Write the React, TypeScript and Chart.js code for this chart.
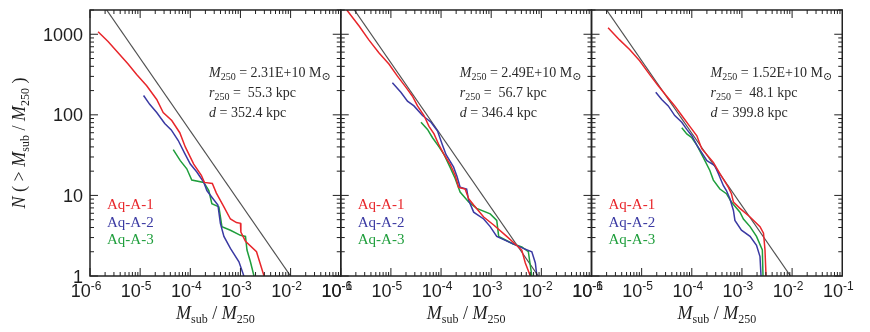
import React, { useEffect, useRef } from 'react';
import { Chart, registerables } from 'chart.js';

Chart.register(...registerables);

// ---------- axis settings ----------
const X_MIN = 1e-6;
const X_MAX = 1e-1;
const Y_MIN = 1;
const Y_MAX = 2000;
const X_TICK_EXPONENTS = [-6, -5, -4, -3, -2, -1];
const Y_TICK_LABELS = [1, 10, 100, 1000];

// ---------- series ----------
const SERIES_NAMES = ['Aq-A-1', 'Aq-A-2', 'Aq-A-3'];
const SERIES_COLORS = ['#e8262b', '#3b3aa3', '#1f9e3c'];

// ---------- halo annotations ----------
const HALO_M250 = ['2.31E+10', '2.49E+10', '1.52E+10'];
const HALO_R250 = ['55.3', '56.7', '48.1'];
const HALO_D = ['352.4', '346.4', '399.8'];

type Pt = [number, number];

// Panel 1  [M_sub/M_250, N(>M)]
const p1Red: Pt[] = [
  [1.45e-6, 1072], [2.29e-6, 813], [3.63e-6, 589], [5.75e-6, 427], [8.51e-6, 316],
  [1.35e-5, 229], [2.14e-5, 155], [2.88e-5, 107], [4.27e-5, 85], [6.17e-5, 60],
  [7.94e-5, 40], [1.17e-4, 24.5], [1.66e-4, 17.8], [1.91e-4, 14.5], [2.75e-4, 14.1],
  [3.31e-4, 10.7], [4.68e-4, 7.2], [6.31e-4, 5.1], [8.32e-4, 4.6], [1.0e-3, 4.5],
  [1.02e-3, 3.5], [1.26e-3, 2.7], [2.09e-3, 2.0], [2.95e-3, 1],
];
const p1Blue: Pt[] = [
  [1.17e-5, 174], [1.55e-5, 135], [2.14e-5, 107], [3.09e-5, 78], [4.17e-5, 65],
  [5.75e-5, 48], [7.59e-5, 34], [1.0e-4, 24.5], [1.35e-4, 19.5], [1.86e-4, 14.5],
  [2.14e-4, 11.5], [2.69e-4, 9.5], [3.55e-4, 7.6], [3.98e-4, 4.5], [4.68e-4, 3.1],
  [6.31e-4, 2.2], [9.33e-4, 1.5], [1.17e-3, 1],
];
const p1Green: Pt[] = [
  [4.57e-5, 37], [6.31e-5, 27], [8.51e-5, 21.4], [1.07e-4, 15.5], [1.86e-4, 14.5],
  [2.34e-4, 11.5], [2.69e-4, 7.9], [3.72e-4, 7.2], [4.27e-4, 4.1], [6.31e-4, 3.7],
  [1.0e-3, 3.2], [1.26e-3, 3.1], [1.35e-3, 2.1], [1.58e-3, 1.5], [1.86e-3, 1],
];
const p1Ref: Pt[] = [[2.15e-6, 2000], [1.0e-2, 1]];

// Panel 2
const p2Red: Pt[] = [
  [1.32e-6, 2000], [2.34e-6, 1259], [3.63e-6, 851], [5.75e-6, 589], [9.12e-6, 427],
  [1.35e-5, 302], [2.0e-5, 219], [2.69e-5, 170], [3.39e-5, 129], [4.57e-5, 98],
  [5.75e-5, 72], [7.24e-5, 58], [9.12e-5, 42], [1.15e-4, 32], [1.51e-4, 24.5],
  [1.91e-4, 17.8], [2.24e-4, 12.6], [3.02e-4, 12], [3.55e-4, 9.1], [4.47e-4, 7.6],
  [7.08e-4, 5.4], [1.12e-3, 4.3], [2.04e-3, 3.1], [4.07e-3, 2.1], [4.79e-3, 1.45],
  [6.03e-3, 1],
];
const p2Blue: Pt[] = [
  [1.07e-5, 251], [1.58e-5, 191], [2.14e-5, 148], [2.88e-5, 129], [4.27e-5, 98],
  [6.31e-5, 81], [8.51e-5, 63], [1.07e-4, 42], [1.26e-4, 32], [1.78e-4, 22.4],
  [2.09e-4, 17], [2.40e-4, 12.6], [3.24e-4, 12], [3.55e-4, 8.7], [4.47e-4, 6.2],
  [7.08e-4, 5.1], [9.55e-4, 4.1], [1.29e-3, 3.1], [2.40e-3, 2.6], [4.37e-3, 2.2],
  [6.46e-3, 2.0], [7.59e-3, 1.45], [8.13e-3, 1],
];
const p2Green: Pt[] = [
  [3.98e-5, 81], [5.37e-5, 66], [6.76e-5, 52], [9.12e-5, 40], [1.15e-4, 32],
  [1.51e-4, 22.4], [1.91e-4, 16.2], [2.40e-4, 11], [3.55e-4, 8.3], [5.13e-4, 6.9],
  [9.55e-4, 5.9], [1.29e-3, 4.9], [1.41e-3, 3.1], [2.75e-3, 2.5], [4.07e-3, 2.3],
  [5.50e-3, 2.0], [6.46e-3, 1],
];
const p2Ref: Pt[] = [[1.87e-6, 2000], [8.7e-3, 1]];

// Panel 3
const p3Red: Pt[] = [
  [2.14e-6, 1202], [3.63e-6, 851], [5.75e-6, 646], [9.12e-6, 468], [1.45e-5, 316],
  [2.14e-5, 229], [3.16e-5, 170], [4.57e-5, 129], [6.31e-5, 98], [9.12e-5, 72],
  [1.26e-4, 55], [1.58e-4, 38], [2.69e-4, 25.7], [3.63e-4, 18.6], [5.37e-4, 12.6],
  [6.17e-4, 10.5], [6.76e-4, 8.3], [9.12e-4, 6.9], [1.45e-3, 5.4], [2.29e-3, 4.1],
  [2.69e-3, 3.4], [2.88e-3, 2.1], [3.02e-3, 1],
];
const p3Blue: Pt[] = [
  [1.91e-5, 191], [2.51e-5, 155], [3.39e-5, 129], [4.57e-5, 98], [6.31e-5, 81],
  [7.94e-5, 66], [1.0e-4, 55], [1.26e-4, 42], [2.0e-4, 27], [2.88e-4, 23.4],
  [3.39e-4, 18.6], [4.27e-4, 13.2], [4.90e-4, 11.5], [5.75e-4, 9.1], [6.76e-4, 6.5],
  [7.24e-4, 4.9], [9.77e-4, 3.7], [1.45e-3, 3.1], [1.95e-3, 2.4], [2.29e-3, 1.74],
  [2.40e-3, 1],
];
const p3Green: Pt[] = [
  [6.31e-5, 69], [7.94e-5, 58], [1.0e-4, 52], [1.26e-4, 42], [1.70e-4, 29.5],
  [2.29e-4, 20.4], [2.69e-4, 15.5], [3.63e-4, 12], [4.90e-4, 10.5], [6.17e-4, 8.3],
  [9.12e-4, 6.2], [1.07e-3, 5.1], [1.45e-3, 4.1], [1.95e-3, 3.1], [2.55e-3, 2.1],
  [2.63e-3, 1],
];
const p3Ref: Pt[] = [[2.0e-6, 2000], [9.3e-3, 1]];

const PANELS: { series: Pt[][]; ref: Pt[] }[] = [
  { series: [p1Red, p1Blue, p1Green], ref: p1Ref },
  { series: [p2Red, p2Blue, p2Green], ref: p2Ref },
  { series: [p3Red, p3Blue, p3Green], ref: p3Ref },
];

// ---------- layout (px) ----------
const W = 870;
const H = 332;
const PANEL_LEFT = [90, 340.75, 591.5];
const PANEL_W = 250.75;
const PLOT_TOP = 10;
const PLOT_BOTTOM = 276;

const SERIF = "'Liberation Serif', 'Times New Roman', 'DejaVu Serif', serif";
const SANS = "'Liberation Sans', Arial, Helvetica, sans-serif";
const AXIS_COLOR = '#222';
const TEXT_COLOR = '#1e1e1e';

type Seg = { t: string; f: string; dy?: number };

function segWidth(ctx: CanvasRenderingContext2D, segs: Seg[]) {
  let w = 0;
  for (const s of segs) {
    ctx.font = s.f;
    w += ctx.measureText(s.t).width;
  }
  return w;
}

function drawSegs(ctx: CanvasRenderingContext2D, segs: Seg[], x: number, y: number) {
  let cx = x;
  for (const s of segs) {
    ctx.font = s.f;
    ctx.fillText(s.t, cx, y + (s.dy || 0));
    cx += ctx.measureText(s.t).width;
  }
}

function makeDecor(idx: number) {
  return {
    id: 'decor' + idx,
    afterDraw(chart: any) {
      const ctx: CanvasRenderingContext2D = chart.ctx;
      const a = chart.chartArea;
      const xs = chart.scales.x;
      const ys = chart.scales.y;
      ctx.save();
      ctx.textBaseline = 'alphabetic';
      ctx.textAlign = 'left';

      // inward tick marks on all four sides
      ctx.strokeStyle = AXIS_COLOR;
      ctx.lineWidth = 1;
      ctx.beginPath();
      for (let e = -6; e < -1; e++) {
        for (let m = 1; m <= 9; m++) {
          const px = xs.getPixelForValue(m * Math.pow(10, e));
          const len = m === 1 ? 8 : 4;
          ctx.moveTo(px, a.bottom);
          ctx.lineTo(px, a.bottom - len);
          ctx.moveTo(px, a.top);
          ctx.lineTo(px, a.top + len);
        }
      }
      for (let e = 0; e <= 3; e++) {
        for (let m = 1; m <= 9; m++) {
          const v = m * Math.pow(10, e);
          if (v > Y_MAX) break;
          const py = ys.getPixelForValue(v);
          const len = m === 1 ? 8 : 4;
          ctx.moveTo(a.left, py);
          ctx.lineTo(a.left + len, py);
          ctx.moveTo(a.right, py);
          ctx.lineTo(a.right - len, py);
        }
      }
      ctx.stroke();

      // frame
      ctx.lineWidth = 1.5;
      ctx.strokeRect(a.left, a.top, a.right - a.left, a.bottom - a.top);

      ctx.fillStyle = TEXT_COLOR;

      // x tick labels 10^n
      for (const e of X_TICK_EXPONENTS) {
        const px = xs.getPixelForValue(Math.pow(10, e));
        const segs: Seg[] = [
          { t: '10', f: `18px ${SANS}` },
          { t: String(e), f: `12px ${SANS}`, dy: -7 },
        ];
        const w = segWidth(ctx, segs);
        drawSegs(ctx, segs, px - w / 2 - 4, 297);
      }

      // y tick labels (first panel only)
      if (idx === 0) {
        ctx.font = `18px ${SANS}`;
        ctx.textAlign = 'right';
        for (const v of Y_TICK_LABELS) {
          const py = ys.getPixelForValue(v);
          ctx.fillText(String(v), a.left - 7, py + 6.5);
        }
        ctx.textAlign = 'left';

        // y axis title (rotated)
        const ySegs: Seg[] = [
          { t: 'N', f: `italic 18px ${SERIF}` },
          { t: ' ( > ', f: `18px ${SERIF}` },
          { t: 'M', f: `italic 18px ${SERIF}` },
          { t: 'sub', f: `12px ${SERIF}`, dy: 4 },
          { t: ' / ', f: `18px ${SERIF}` },
          { t: 'M', f: `italic 18px ${SERIF}` },
          { t: '250', f: `12px ${SERIF}`, dy: 4 },
          { t: ' )', f: `18px ${SERIF}` },
        ];
        const yw = segWidth(ctx, ySegs);
        ctx.save();
        ctx.translate(25, (a.top + a.bottom) / 2);
        ctx.rotate(-Math.PI / 2);
        drawSegs(ctx, ySegs, -yw / 2, 0);
        ctx.restore();
      }

      // x axis title
      const xSegs: Seg[] = [
        { t: 'M', f: `italic 18px ${SERIF}` },
        { t: 'sub', f: `12px ${SERIF}`, dy: 4 },
        { t: ' / ', f: `18px ${SERIF}` },
        { t: 'M', f: `italic 18px ${SERIF}` },
        { t: '250', f: `12px ${SERIF}`, dy: 4 },
      ];
      const xw = segWidth(ctx, xSegs);
      drawSegs(ctx, xSegs, (a.left + a.right) / 2 - xw / 2, 319);

      // halo annotation
      const tx = a.left + 119;
      ctx.fillStyle = '#2a2a2a';
      drawSegs(ctx, [
        { t: 'M', f: `italic 14px ${SERIF}` },
        { t: '250', f: `10px ${SERIF}`, dy: 3 },
        { t: ' = ' + HALO_M250[idx] + ' M', f: `14px ${SERIF}` },
        { t: '\u2299', f: `11px ${SERIF}`, dy: 3 },
      ], tx, 77);
      drawSegs(ctx, [
        { t: 'r', f: `italic 14px ${SERIF}` },
        { t: '250', f: `10px ${SERIF}`, dy: 3 },
        { t: ' =  ' + HALO_R250[idx] + ' kpc', f: `14px ${SERIF}` },
      ], tx, 97);
      drawSegs(ctx, [
        { t: 'd', f: `italic 14px ${SERIF}` },
        { t: ' = ' + HALO_D[idx] + ' kpc', f: `14px ${SERIF}` },
      ], tx, 117);

      // legend text
      ctx.font = `15px ${SERIF}`;
      SERIES_NAMES.forEach((name, i) => {
        ctx.fillStyle = SERIES_COLORS[i];
        ctx.fillText(name, a.left + 17, 209 + i * 17.5);
      });

      ctx.restore();
    },
  };
}

function Panel({ idx }: { idx: number }) {
  const ref = useRef<HTMLCanvasElement | null>(null);
  useEffect(() => {
    const canvas = ref.current;
    if (!canvas) return;
    const p = PANELS[idx];
    const toXY = (pts: Pt[]) => pts.map(([x, y]) => ({ x, y }));
    const datasets: any[] = p.series.map((s, i) => ({
      label: SERIES_NAMES[i],
      data: toXY(s),
      showLine: true,
      borderColor: SERIES_COLORS[i],
      backgroundColor: SERIES_COLORS[i],
      borderWidth: 1.5,
      pointRadius: 0,
      tension: 0,
      fill: false,
    }));
    datasets.push({
      label: 'power law',
      data: toXY(p.ref),
      showLine: true,
      borderColor: '#505050',
      borderWidth: 1.2,
      pointRadius: 0,
      tension: 0,
      fill: false,
    });
    const L = PANEL_LEFT[idx];
    const chart = new Chart(canvas, {
      type: 'scatter',
      data: { datasets },
      options: {
        responsive: false,
        animation: false,
        events: [],
        layout: {
          padding: {
            left: L,
            right: W - L - PANEL_W,
            top: PLOT_TOP,
            bottom: H - PLOT_BOTTOM,
          },
        },
        scales: {
          x: { type: 'logarithmic', min: X_MIN, max: X_MAX, display: false },
          y: { type: 'logarithmic', min: Y_MIN, max: Y_MAX, display: false },
        },
        plugins: {
          legend: { display: false },
          tooltip: { enabled: false },
        },
      },
      plugins: [makeDecor(idx)],
    } as any);
    return () => chart.destroy();
  }, [idx]);
  return (
    <canvas
      ref={ref}
      width={W}
      height={H}
      style={{ position: 'absolute', left: 0, top: 0, width: W, height: H }}
    />
  );
}

export default function App() {
  return (
    <div style={{ position: 'absolute', left: 0, top: 0, width: W, height: H, background: '#fff' }}>
      <Panel idx={0} />
      <Panel idx={1} />
      <Panel idx={2} />
    </div>
  );
}
